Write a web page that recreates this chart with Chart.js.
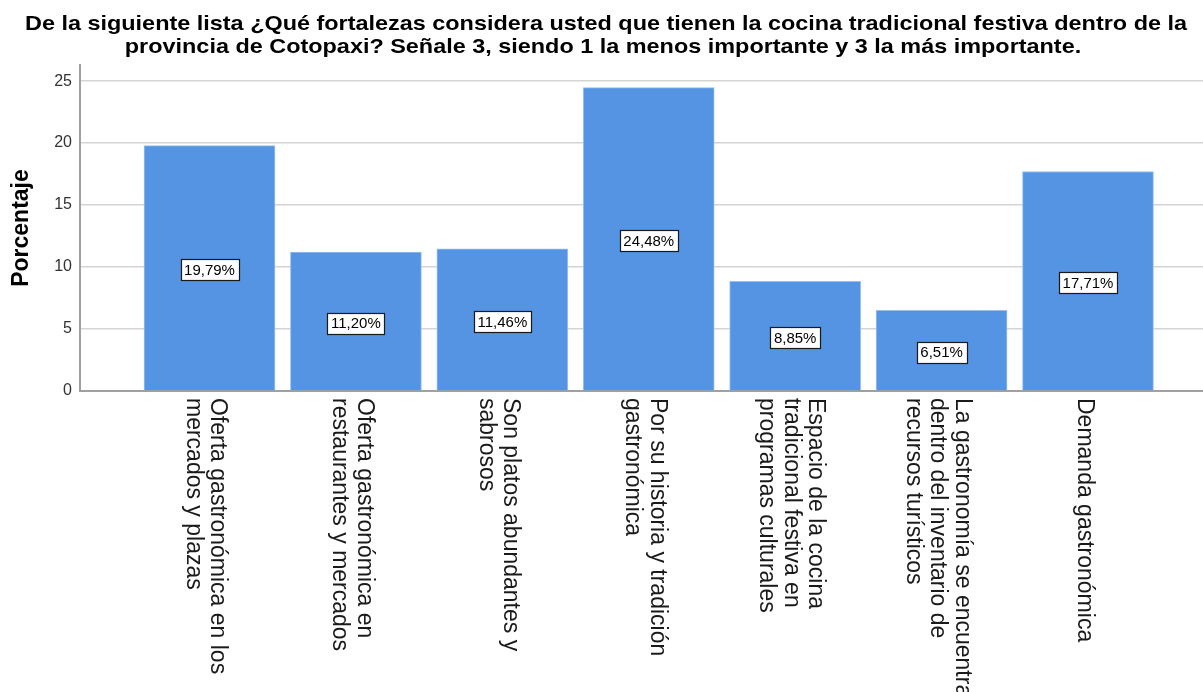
<!DOCTYPE html>
<html lang="es">
<head>
  <meta charset="UTF-8">
  <title>Fortalezas de la cocina tradicional festiva</title>
  <script src="https://cdn.jsdelivr.net/npm/chart.js"></script>
  <style>
    html, body {
      margin: 0;
      padding: 0;
      background: #ffffff;
      overflow: hidden;
    }
    #barChart {
      display: block;
    }
  </style>
</head>
<body>
  <canvas id="barChart" width="1203" height="692"></canvas>

  <script>
    // Data
    const titleLines = [
      'De la siguiente lista ¿Qué fortalezas considera usted que tienen la cocina tradicional festiva dentro de la',
      'provincia de Cotopaxi? Señale 3, siendo 1 la menos importante y 3 la más importante.'
    ];
    const categories = [
      ['Oferta gastronómica en los', 'mercados y plazas'],
      ['Oferta gastronómica en', 'restaurantes y mercados'],
      ['Son platos abundantes y', 'sabrosos'],
      ['Por su historia y tradición', 'gastronómica'],
      ['Espacio de la cocina', 'tradicional festiva en', 'programas culturales'],
      ['La gastronomía se encuentra', 'dentro del inventario de', 'recursos turísticos'],
      ['Demanda gastronómica']
    ];
    const percentages = [19.79, 11.20, 11.46, 24.48, 8.85, 6.51, 17.71];
    const yTicks = [0, 5, 10, 15, 20, 25];

    const barColor = '#5594e2';

    // Title drawn across the top (slightly wide, like the SPSS export)
    const titlePlugin = {
      id: 'twoLineTitle',
      afterDraw(chart) {
        const ctx = chart.ctx;
        const centers = [606, 603];
        ctx.save();
        ctx.fillStyle = '#000';
        ctx.font = 'bold 21px Arial, "Liberation Sans", sans-serif';
        ctx.textAlign = 'center';
        ctx.textBaseline = 'alphabetic';
        titleLines.forEach((line, i) => {
          ctx.save();
          ctx.translate(centers[i], 30 + i * 23);
          ctx.scale(1.115, 1);
          ctx.fillText(line, 0, 0);
          ctx.restore();
        });
        ctx.restore();
      }
    };

    // Value boxes in the middle of each bar
    const valueBoxes = {
      id: 'valueBoxes',
      afterDatasetsDraw(chart) {
        const ctx = chart.ctx;
        const meta = chart.getDatasetMeta(0);
        ctx.save();
        ctx.font = '15px Arial, "Liberation Sans", sans-serif';
        ctx.textAlign = 'center';
        ctx.textBaseline = 'middle';
        meta.data.forEach((bar, i) => {
          const txt = percentages[i].toFixed(2).replace('.', ',') + '%';
          const w = Math.round(ctx.measureText(txt).width + 7);
          const h = 21;
          const cx = bar.x;
          const cy = (bar.y + bar.base) / 2 + 2;
          const bx = Math.round(cx - w / 2) + 0.5;
          const by = Math.round(cy - h / 2) + 0.5;
          ctx.fillStyle = '#ffffff';
          ctx.fillRect(bx, by, w, h);
          ctx.strokeStyle = '#1a1a1a';
          ctx.lineWidth = 1.2;
          ctx.strokeRect(bx, by, w, h);
          ctx.fillStyle = '#000';
          ctx.fillText(txt, cx, cy + 1);
        });
        ctx.restore();
      }
    };

    // Category labels, rotated to read downward
    const rotatedLabels = {
      id: 'rotatedLabels',
      afterDraw(chart) {
        const ctx = chart.ctx;
        const xScale = chart.scales.x;
        const top = chart.chartArea.bottom + 7;
        const lh = 24.5;
        ctx.save();
        ctx.font = '23px Arial, "Liberation Sans", sans-serif';
        ctx.fillStyle = '#1a1a1a';
        ctx.textAlign = 'left';
        ctx.textBaseline = 'middle';
        categories.forEach((lines, i) => {
          const x = xScale.getPixelForValue(i);
          ctx.save();
          ctx.translate(x, top);
          ctx.rotate(Math.PI / 2);
          const n = lines.length;
          lines.forEach((line, j) => {
            ctx.fillText(line, 0, (j - (n - 1) / 2) * lh + 4);
          });
          ctx.restore();
        });
        ctx.restore();
      }
    };

    const ctxBar = document.getElementById('barChart').getContext('2d');
    new Chart(ctxBar, {
      type: 'bar',
      data: {
        datasets: [{
          data: percentages.map((v, i) => ({ x: i, y: v })),
          backgroundColor: barColor,
          borderColor: '#9cc0ee',
          borderWidth: 1,
          barThickness: 131
        }]
      },
      options: {
        responsive: false,
        animation: false,
        devicePixelRatio: 1,
        layout: {
          padding: { top: 65, bottom: 301, left: 0, right: 0 }
        },
        plugins: {
          legend: { display: false },
          tooltip: { enabled: false },
          title: { display: false }
        },
        scales: {
          x: {
            type: 'linear',
            offset: false,
            min: -0.8845,
            max: 6.7855,
            grid: { display: false },
            ticks: { display: false },
            border: { color: '#a0a0a0', width: 2 },
            afterFit(scale) { scale.height = 0; }
          },
          y: {
            min: 0,
            max: 26.3,
            afterFit(scale) { scale.width = 80; },
            afterBuildTicks(scale) {
              scale.ticks = yTicks.map(v => ({ value: v }));
            },
            ticks: {
              padding: 8,
              color: '#333333',
              font: { family: 'Arial, "Liberation Sans", sans-serif', size: 16 }
            },
            grid: {
              color: '#d4d4d4',
              lineWidth: 1.5,
              drawTicks: false
            },
            border: { color: '#a0a0a0', width: 2 },
            title: {
              display: true,
              text: 'Porcentaje',
              color: '#000',
              padding: { top: 8, bottom: 0 },
              font: { family: 'Arial, "Liberation Sans", sans-serif', size: 23, weight: 'bold' }
            }
          }
        }
      },
      plugins: [titlePlugin, valueBoxes, rotatedLabels]
    });
  </script>
</body>
</html>
